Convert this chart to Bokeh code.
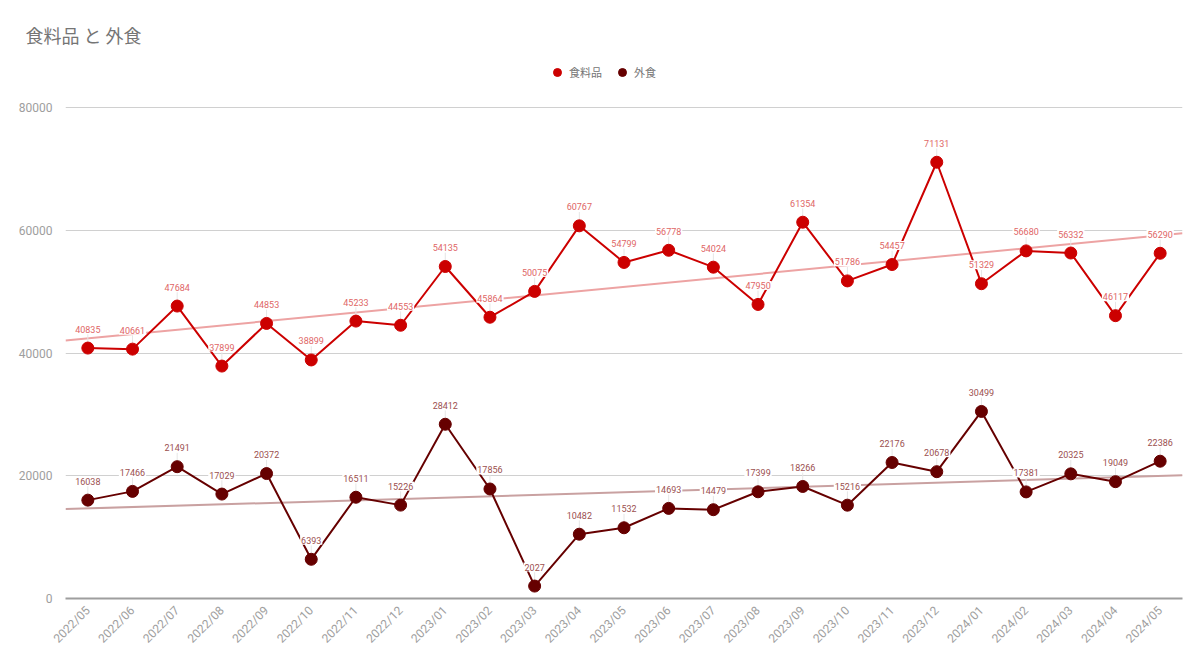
import numpy as np
from bokeh.plotting import figure
from bokeh.models import ColumnDataSource, Range1d, FixedTicker, Legend, LegendItem
from bokeh.embed import file_html
from bokeh.resources import INLINE
from bokeh.core.properties import value

months = ["2022/05", "2022/06", "2022/07", "2022/08", "2022/09", "2022/10", "2022/11", "2022/12",
          "2023/01", "2023/02", "2023/03", "2023/04", "2023/05", "2023/06", "2023/07", "2023/08",
          "2023/09", "2023/10", "2023/11", "2023/12", "2024/01", "2024/02", "2024/03", "2024/04",
          "2024/05"]
food = [40835, 40661, 47684, 37899, 44853, 38899, 45233, 44553, 54135, 45864, 50075, 60767, 54799,
        56778, 54024, 47950, 61354, 51786, 54457, 71131, 51329, 56680, 56332, 46117, 56290]
dining = [16038, 17466, 21491, 17029, 20372, 6393, 16511, 15226, 28412, 17856, 2027, 10482, 11532,
          14693, 14479, 17399, 18266, 15216, 22176, 20678, 30499, 17381, 20325, 19049, 22386]
y_ticks = [0, 20000, 40000, 60000, 80000]

TITLE = "食料品 と 外食"
FOOD_NAME = "食料品"
DINING_NAME = "外食"

C_FOOD = "#cc0000"
C_DINING = "#660000"
C_FOOD_TREND = "#eda3a3"
C_DINING_TREND = "#c9a1a1"
C_FOOD_LBL = "#e06666"
C_DINING_LBL = "#9c5050"
CJK = "Noto Sans CJK JP"
NUM = "Roboto"

W, H = 1184, 653
ML, MR, MT, MB = 65, 2, 50, 49
TOP_GAP = 58  # px between frame top and the highest gridline
frame_h = H - MT - MB
units_per_px = (y_ticks[-1] - y_ticks[0]) / (frame_h - TOP_GAP)
y_end = y_ticks[0] + units_per_px * frame_h

idx = np.arange(len(months))

p = figure(width=W, height=H, output_backend="svg", toolbar_location=None,
           x_range=Range1d(-0.5, len(months) - 0.5), y_range=Range1d(y_ticks[0], y_end),
           min_border_left=ML, min_border_right=MR, min_border_top=MT, min_border_bottom=MB)
p.outline_line_color = None
p.background_fill_color = "white"
p.border_fill_color = "white"

p.title.text = TITLE
p.title.text_font = CJK
p.title.text_font_size = "18px"
p.title.text_font_style = "normal"
p.title.text_color = "#757575"
p.title.align = "left"
p.title.offset = -40
p.title.standoff = 6

# axes
p.xaxis.ticker = FixedTicker(ticks=list(idx))
p.xaxis.major_label_overrides = {int(i): m for i, m in zip(idx, months)}
p.xaxis.major_label_orientation = np.pi / 4
p.xaxis.major_label_text_color = "#9e9e9e"
p.xaxis.major_label_text_font = NUM
p.xaxis.major_label_text_font_size = "12px"
p.xaxis.axis_line_color = "#9e9e9e"
p.xaxis.axis_line_width = 2
p.xaxis.major_tick_line_color = None
p.xaxis.minor_tick_line_color = None
p.xaxis.major_label_standoff = 4

p.yaxis.ticker = FixedTicker(ticks=y_ticks)
p.yaxis.axis_line_color = None
p.yaxis.major_tick_line_color = None
p.yaxis.minor_tick_line_color = None
p.yaxis.major_label_text_color = "#9e9e9e"
p.yaxis.major_label_text_font = NUM
p.yaxis.major_label_text_font_size = "12px"
p.yaxis.major_label_standoff = 7
p.yaxis.formatter.use_scientific = False

p.xgrid.grid_line_color = None
p.ygrid.grid_line_color = "#d0d0d0"
p.ygrid.grid_line_width = 1

# trend lines (least squares)
xe = np.array([-0.5, len(months) - 0.5])
bf, af = np.polyfit(idx, np.array(food, float), 1)
bd, ad = np.polyfit(idx, np.array(dining, float), 1)
p.line(xe, af + bf * xe, line_color=C_FOOD_TREND, line_width=2)
p.line(xe, ad + bd * xe, line_color=C_DINING_TREND, line_width=2)

stem = 14 * units_per_px
src_f = ColumnDataSource(dict(x=idx, y=food, y2=np.array(food) + stem, t=[str(v) for v in food]))
src_d = ColumnDataSource(dict(x=idx, y=dining, y2=np.array(dining) + stem, t=[str(v) for v in dining]))

for src in (src_f, src_d):
    p.segment(x0="x", y0="y", x1="x", y1="y2", source=src, line_color="#e6e6e6", line_width=1)

p.line("x", "y", source=src_f, line_color=C_FOOD, line_width=2)
p.line("x", "y", source=src_d, line_color=C_DINING, line_width=2)
rf = p.scatter("x", "y", source=src_f, size=12, fill_color=C_FOOD, line_color=C_FOOD)
rd = p.scatter("x", "y", source=src_d, size=12, fill_color=C_DINING, line_color=C_DINING)

for src, col in ((src_f, C_FOOD_LBL), (src_d, C_DINING_LBL)):
    p.text("x", "y", text="t", source=src, y_offset=-19, text_align="center",
           text_baseline="middle", text_font=value(NUM), text_font_size="9px",
           text_color=col, background_fill_color="white", padding=1)

legend = Legend(items=[LegendItem(label=FOOD_NAME, renderers=[rf]),
                       LegendItem(label=DINING_NAME, renderers=[rd])],
                orientation="horizontal", location=(482, frame_h - 38),
                label_text_font=CJK, label_text_font_size="11px", label_text_color="#757575",
                glyph_width=20, glyph_height=20, label_standoff=2, spacing=10,
                padding=0, margin=0, border_line_color=None, background_fill_alpha=0)
p.add_layout(legend, "center")

open("out.html", "w").write(file_html(p, INLINE))
